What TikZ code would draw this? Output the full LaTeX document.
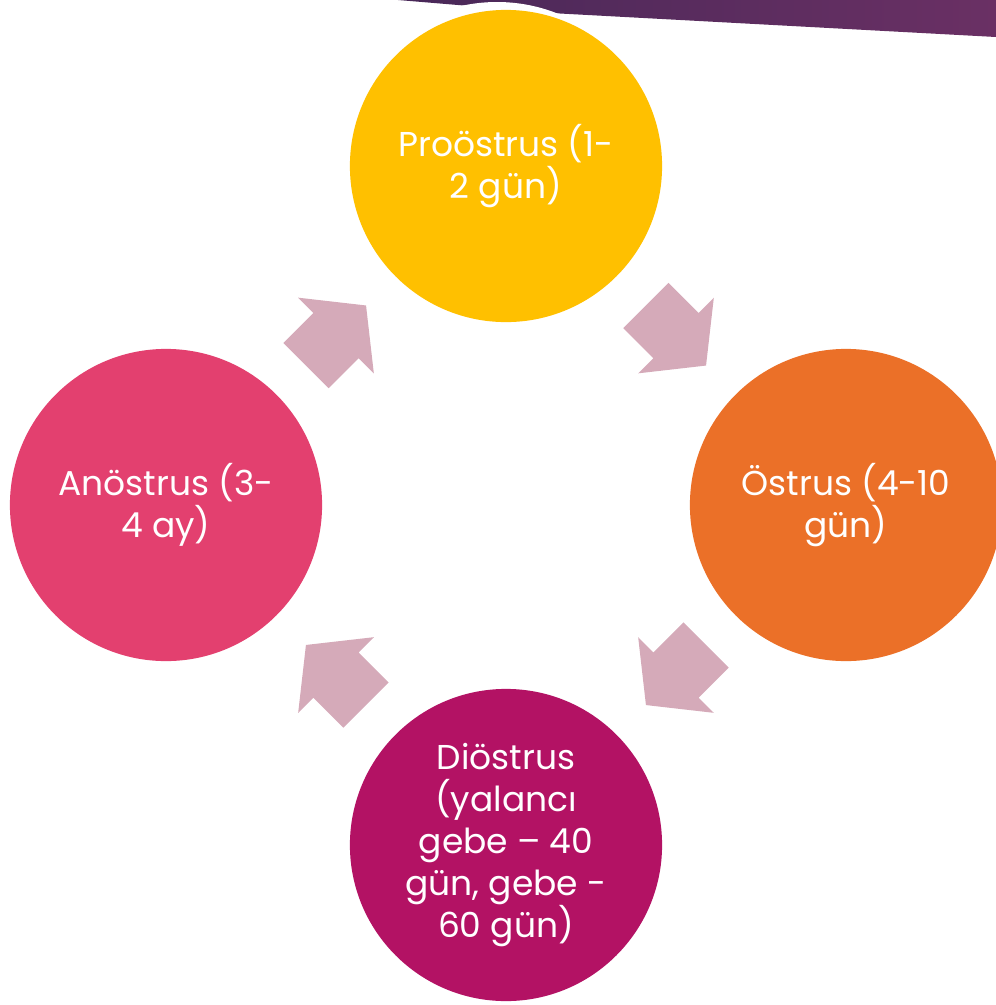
\documentclass[tikz,border=0pt]{standalone}
\usepackage{fontspec}
\setmainfont{Poppins}
\usetikzlibrary{calc}
\definecolor{bandleft}{RGB}{72,40,88}
\definecolor{bandright}{RGB}{106,48,100}
\definecolor{proyellow}{RGB}{255,192,0}
\definecolor{estorange}{RGB}{235,112,40}
\definecolor{dimagenta}{RGB}{179,18,100}
\definecolor{anpink}{RGB}{227,64,111}
\definecolor{arrowpink}{RGB}{213,170,185}
\tikzset{
  phase/.style={circle, minimum size=3.12cm, inner sep=0pt, align=center, text=white,
    font=\fontsize{9.8}{11.9}\selectfont},
  cyclearrow/.pic={\fill[arrowpink] (-42.5,32) -- (0,32) -- (0,53.5) -- (42.5,0) -- (0,-53.5) -- (0,-32) -- (-42.5,-32) -- cycle;}
}

\begin{document}
\begin{tikzpicture}[x=0.01cm, y=-0.01cm]
    \useasboundingbox (0,0) rectangle (996,1005);
    \clip (0,0) rectangle (996,1005);
    % slide band at the top
    \shade[left color=bandleft, right color=bandright] (398,-5) -- (398,0) -- (470,6) -- (560,13.5) -- (996,37) -- (996,-5) -- cycle;
    \fill[white] (497,166) circle(164);
    % phases of the cycle
    \node[phase, fill=proyellow] (pro) at (506,166) {Proöstrus (1-\\2 gün)};
    \node[phase, fill=estorange] (ost) at (846,505) {Östrus (4-10\\gün)};
    \node[phase, fill=dimagenta] (dio) at (506,845) {Diöstrus\\(yalancı\\gebe – 40\\gün, gebe -\\60 gün)};
    \node[phase, fill=anpink] (ano) at (166,505) {Anöstrus (3-\\4 ay)};
    % arrows between phases
    \path ($(pro)!0.5!(ost)$) pic[rotate=-45] {cyclearrow};
    \path ($(ost)!0.5!(dio)$) pic[rotate=-135] {cyclearrow};
    \path ($(dio)!0.5!(ano)$) pic[rotate=135] {cyclearrow};
    \path ($(ano)!0.5!(pro)$) pic[rotate=45] {cyclearrow};
\end{tikzpicture}
\end{document}
